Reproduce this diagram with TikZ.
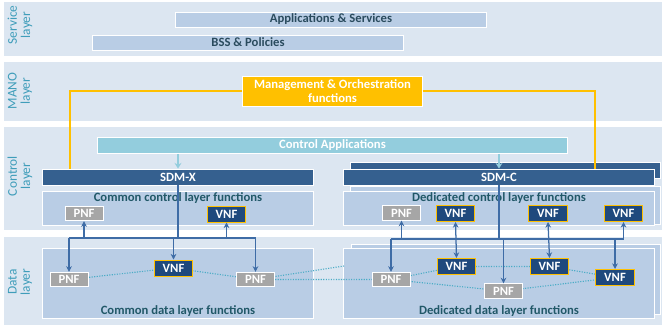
\documentclass[tikz,border=0pt]{standalone}
\usepackage{fontspec}
\setmainfont{Carlito}
\usetikzlibrary{positioning,arrows.meta}

\definecolor{bandblue}{HTML}{DCE6F1}
\definecolor{boxblue}{HTML}{B9CDE5}
\definecolor{appteal}{HTML}{93CDDD}
\definecolor{sdmblue}{HTML}{35608F}
\definecolor{vnfblue}{HTML}{1F497D}
\definecolor{pnfgray}{HTML}{A6A6A6}
\definecolor{manogold}{HTML}{FFC000}
\definecolor{linkblue}{HTML}{3E6CA6}
\definecolor{dotteal}{HTML}{4BACC6}
\definecolor{titleteal}{HTML}{215868}
\definecolor{layerteal}{HTML}{3F9DBA}
\definecolor{servtext}{HTML}{2A4B5E}

\tikzset{
  band/.style={fill=bandblue},
  bar/.style={rectangle, draw=white, line width=0.7pt, inner sep=0pt, text=white,
    font=\fontsize{9}{10}\selectfont\bfseries},
  servicebar/.style={bar, fill=boxblue, text=servtext, minimum width=7.75cm, minimum height=0.375cm},
  sdmbar/.style={bar, fill=sdmblue, minimum width=#1, minimum height=0.4cm},
  funcbox/.style={rectangle, draw=white, line width=0.7pt, fill=boxblue, minimum width=#1},
  boxtitle/.style={inner sep=1pt, text=titleteal, font=\fontsize{9}{10}\selectfont\bfseries},
  layerlabel/.style={rotate=90, align=center, text=layerteal, font=\fontsize{9.5}{9.5}\selectfont},
  pnf/.style={bar, fill=pnfgray, minimum width=0.95cm, minimum height=0.36cm},
  vnf/.style={bar, fill=vnfblue, draw=manogold, minimum width=0.97cm, minimum height=0.4cm},
  sdmline/.style={linkblue, line width=0.9pt},
  sdmarrow/.style={sdmline, -{Stealth[length=4pt,width=4pt]}},
  sdmboth/.style={sdmline, {Stealth[length=4pt,width=4pt]}-{Stealth[length=4pt,width=4pt]}},
  dplink/.style={dotteal, densely dotted, line width=0.8pt}
}

\begin{document}
\begin{tikzpicture}[x=0.025cm, y=-0.025cm]
    \useasboundingbox (0,0) rectangle (662,328);

    % Draw layer bands
    \fill[band] (4,2) rectangle (662,56);
    \fill[band] (4,62) rectangle (662,121);
    \fill[band] (4,127) rectangle (662,230);
    \fill[band] (4,237) rectangle (662,325);
    \node (servlabel) at (20,25) [layerlabel] {Service\\layer};
    \node (manolabel) at (20,91) [layerlabel] {MANO\\layer};
    \node (ctrllabel) at (20,176) [layerlabel] {Control\\layer};
    \node (datalabel) at (20,282) [layerlabel] {Data\\layer};

    % Service layer
    \node (apps) at (331,19.5) [servicebar] {Applications \& Services};
    \node (bss) at (248,42.5) [servicebar] {BSS \& Policies};

    % MANO layer
    \node (mano) at (332.5,91) [bar, fill=manogold, align=center, minimum width=4.475cm, minimum height=0.75cm]
      {Management \& Orchestration\\functions};

    % Control layer
    \node (ctrlapps) at (332.5,145.5) [bar, fill=appteal, minimum width=11.725cm, minimum height=0.4cm] {Control Applications};
    \node (sdmcback) at (505.5,170) [sdmbar=7.725cm] {};
    \node (dclback) at (505.5,205) [funcbox=7.725cm, minimum height=0.95cm] {};
    \coordinate (manoX) at (70,169);
    \coordinate (manoC) at (595,169);
    \draw[manogold, line width=0.8pt] (mano.west) -| (manoX);
    \draw[manogold, line width=0.8pt] (mano.east) -| (manoC);
    \node (sdmx) at (178,177) [sdmbar=6.75cm] {SDM-X};
    \node (sdmc) at (499,177) [sdmbar=7.75cm] {SDM-C};
    \draw[appteal, line width=0.9pt, -{Stealth[length=4pt,width=5pt]}] (ctrlapps.south -| sdmx) -- (sdmx.north);
    \draw[appteal, line width=0.9pt, -{Stealth[length=4pt,width=5pt]}] (ctrlapps.south -| sdmc) -- (sdmc.north);
    \node (ccl) at (178,208) [funcbox=6.75cm, minimum height=0.85cm] {};
    \node (dcl) at (499,208) [funcbox=7.75cm, minimum height=0.85cm] {};
    \node [boxtitle, below=0pt of ccl.north] (ccltitle) {Common control layer functions};
    \node [boxtitle, below=0pt of dcl.north] (dcltitle) {Dedicated control layer functions};

    % Data layer
    \node (ddlback) at (506,279) [funcbox=7.7cm, minimum height=1.75cm] {};
    \node (cdl) at (178,283) [funcbox=6.75cm, minimum height=1.75cm] {};
    \node (ddl) at (499,283) [funcbox=7.75cm, minimum height=1.75cm] {};
    \node [boxtitle, above=0pt of cdl.south] (cdltitle) {Common data layer functions};
    \node [boxtitle, above=0pt of ddl.south] (ddltitle) {Dedicated data layer functions};

    % Data plane links
    \coordinate (ddledge) at (344,266);
    \coordinate (pnfd1) at (69,279.5);
    \coordinate (vnfd1) at (173.5,268);
    \coordinate (pnfd2) at (255.5,279.5);
    \coordinate (pnfd3) at (391,279.5);
    \coordinate (vnfd2) at (456.5,266.5);
    \coordinate (vnfd3) at (549.5,266.5);
    \coordinate (vnfd4) at (615,277.5);
    \coordinate (pnfd4) at (503.5,291);
    \draw[dplink] (pnfd1) -- (vnfd1) -- (pnfd2) -- (pnfd3) -- (pnfd4) -- (vnfd4);
    \draw[dplink] (pnfd2) -- (ddledge);
    \draw[dplink] (pnfd3) -- (vnfd2) -- (vnfd3) -- (vnfd4);

    % Draw functions
    \node (pnfc1) at (84,213.5) [pnf] {PNF};
    \node (vnfc1) at (226.5,214) [vnf] {VNF};
    \node (pnfc2) at (401.5,213) [pnf] {PNF};
    \node (vnfc2) at (455.5,213.5) [vnf] {VNF};
    \node (vnfc3) at (548,213.5) [vnf] {VNF};
    \node (vnfc4) at (623.5,213.5) [vnf] {VNF};
    \node (pnfd1) at (69,279.5) [pnf] {PNF};
    \node (vnfd1) at (173.5,268) [vnf] {VNF};
    \node (pnfd2) at (255.5,279.5) [pnf] {PNF};
    \node (pnfd3) at (391,279.5) [pnf] {PNF};
    \node (vnfd2) at (456.5,266.5) [vnf] {VNF};
    \node (vnfd3) at (549.5,266.5) [vnf] {VNF};
    \node (vnfd4) at (615,277.5) [vnf] {VNF};
    \node (pnfd4) at (503.5,291) [pnf] {PNF};

    % SDM-X control links
    \coordinate (cbus) at (178,238);
    \draw[sdmline] (sdmx.south) -- (cbus);
    \draw[sdmline] (pnfd1.north |- cbus) -- (pnfd2.north |- cbus);
    \draw[sdmarrow] (pnfd1.north |- cbus) -- (pnfd1.north);
    \draw[sdmarrow] (vnfd1.north |- cbus) -- (vnfd1.north);
    \draw[sdmarrow] (pnfd2.north |- cbus) -- (pnfd2.north);
    \draw[sdmarrow] (pnfc1.south |- cbus) -- (pnfc1.south);
    \draw[sdmarrow] (vnfc1.south |- cbus) -- (vnfc1.south);

    % SDM-C control links
    \coordinate (dbus) at (499,239);
    \draw[sdmline] (sdmc.south) -- (dbus);
    \draw[sdmline] (pnfd3.north |- dbus) -- (vnfc4.south |- dbus);
    \draw[sdmarrow] (pnfd3.north |- dbus) -- (pnfd3.north);
    \draw[sdmarrow] (pnfd4.north |- dbus) -- (pnfd4.north);
    \draw[sdmarrow] (vnfd4.north |- dbus) -- (vnfd4.north);
    \draw[sdmarrow] (pnfc2.south |- dbus) -- (pnfc2.south);
    \draw[sdmarrow] (vnfc4.south |- dbus) -- (vnfc4.south);
    \draw[sdmboth] (vnfc2.south) -- (vnfd2.north);
    \draw[sdmboth] (vnfc3.south) -- (vnfd3.north);
\end{tikzpicture}
\end{document}
